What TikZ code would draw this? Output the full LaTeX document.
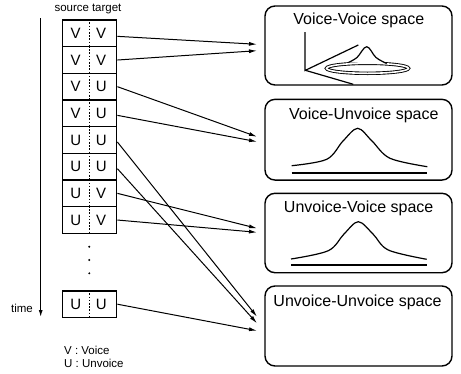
\documentclass[tikz,border=0pt]{standalone}
\usepackage{fontspec}
\setmainfont{Liberation Sans}
\usetikzlibrary{arrows.meta}
\tikzset{
  cell/.style={draw,line width=1.4pt,minimum width=54pt,minimum height=26.7pt,inner sep=0pt},
  lett/.style={font=\fontsize{15}{15}\selectfont,inner sep=0pt},
  spacebox/.style={draw,line width=1.4pt,rounded corners=10pt,minimum width=187pt,inner sep=0pt},
  title/.style={font=\fontsize{16}{16}\selectfont,inner sep=0pt},
  small/.style={font=\fontsize{11.5}{11.5}\selectfont,inner sep=0pt},
  conn/.style={line width=1pt,-{Latex[length=8pt,width=4pt]}},
  divider/.style={line width=1.2pt,dash pattern=on 1.6pt off 1.6pt},
  curve/.style={line width=1.2pt},
}
\begin{document}
\begin{tikzpicture}[x=1pt,y=-1pt]
\useasboundingbox (0,0) rectangle (461,373);
% header
\node[small] (hdr) at (88,9) {source\hspace{3pt}target};
% time axis
\coordinate (ttop) at (40.7,18);
\coordinate (tbot) at (40.7,317);
\draw[line width=1.1pt,-{Latex[length=7pt,width=4pt]}] (ttop) -- (tbot);
\node[small,anchor=east] (time) at (33,308) {time};
% cells
\foreach \i/\s/\t in {1/V/V,2/V/V,3/V/U,4/V/U,5/U/U,6/U/U,7/U/V,8/U/V}{
  \node[cell] (r\i) at (89.7,{20+26.67*(\i-0.5)}) {};
  \node[lett] (s\i) at ([xshift=-14pt]r\i.center) {\s};
  \node[lett] (t\i) at ([xshift=11.5pt]r\i.center) {\t};
  \draw[divider] (r\i.north) -- (r\i.south);
}
\node[cell] (r9) at (89.7,304.2) {};
\node[lett] (s9) at ([xshift=-14pt]r9.center) {U};
\node[lett] (t9) at ([xshift=11.5pt]r9.center) {U};
\draw[divider] (r9.north) -- (r9.south);
% vertical dots
\foreach \k/\yy in {1/246.7,2/260,3/273.3}{
  \fill (89.3,\yy) circle (1.1pt);
}
% legend
\node[small,anchor=west] (lv) at (64,350) {V : Voice};
\node[small,anchor=west] (lu) at (64,363) {U : Unvoice};
% space boxes
\node[spacebox,minimum height=79pt] (b1) at (358.5,45.5) {};
\node[spacebox,minimum height=80.7pt] (b2) at (358.5,139.7) {};
\node[spacebox,minimum height=79.4pt] (b3) at (358.5,233) {};
\node[spacebox,minimum height=80pt] (b4) at (358.5,326) {};
\node[title] (h1) at (358.8,20) {Voice-Voice space};
\node[title] (h2) at (363.8,115) {Voice-Unvoice space};
\node[title] (h3) at (358.7,208) {Unvoice-Voice space};
\node[title] (h4) at (357.5,302) {Unvoice-Unvoice space};
% box 1 drawing
\draw[curve] (305,32) -- (305,70.5) -- (358.3,45);
\draw[curve] (306,70.5) -- (353.3,84.3);
\draw[line width=0.9pt,double,double distance=1.6pt] (367.5,68.3) ellipse (41pt and 5pt);
\draw[curve,fill=white] plot[smooth,tension=0.6] coordinates {(348.3,62.5) (357,57.5) (366.7,46.7) (376,57.5) (386.7,63.5)};
% box 2 drawing
\draw[line width=1.7pt] (291.7,172.7) -- (427.3,172.7);
\draw[curve] plot[smooth,tension=0.55] coordinates {(291.7,165.7) (326.7,159.3) (343,141) (357.7,128.3) (372,141) (390,158.3) (427.3,166.7)};
% box 3 drawing
\draw[line width=1.7pt] (291,265) -- (426.7,265);
\draw[curve] plot[smooth,tension=0.55] coordinates {(291,259) (328.3,250.7) (344,234) (358.3,221.7) (373,234) (388.3,250) (426.7,259.3)};
% arrow targets
\coordinate (a1) at (257,44.3);
\coordinate (a2) at (257,50.7);
\coordinate (a3) at (257,136.7);
\coordinate (a4) at (257,141.7);
\coordinate (a5) at (257,316.7);
\coordinate (a6) at (257,323.3);
\coordinate (a7) at (257,228.3);
\coordinate (a8) at (257,232.3);
\coordinate (a9) at (257,330.7);
\draw[conn] ([yshift=-3pt]r1.east) -- (a1);
\draw[conn] (r2.east) -- (a2);
\draw[conn] (r3.east) -- (a3);
\draw[conn] ([yshift=-2pt]r4.east) -- (a4);
\draw[conn] ([yshift=-2pt]r5.east) -- (a5);
\draw[conn] ([yshift=-2pt]r6.east) -- (a6);
\draw[conn] (r7.east) -- (a7);
\draw[conn] (r8.east) -- (a8);
\draw[conn] (r9.east) -- (a9);
\end{tikzpicture}
\end{document}
